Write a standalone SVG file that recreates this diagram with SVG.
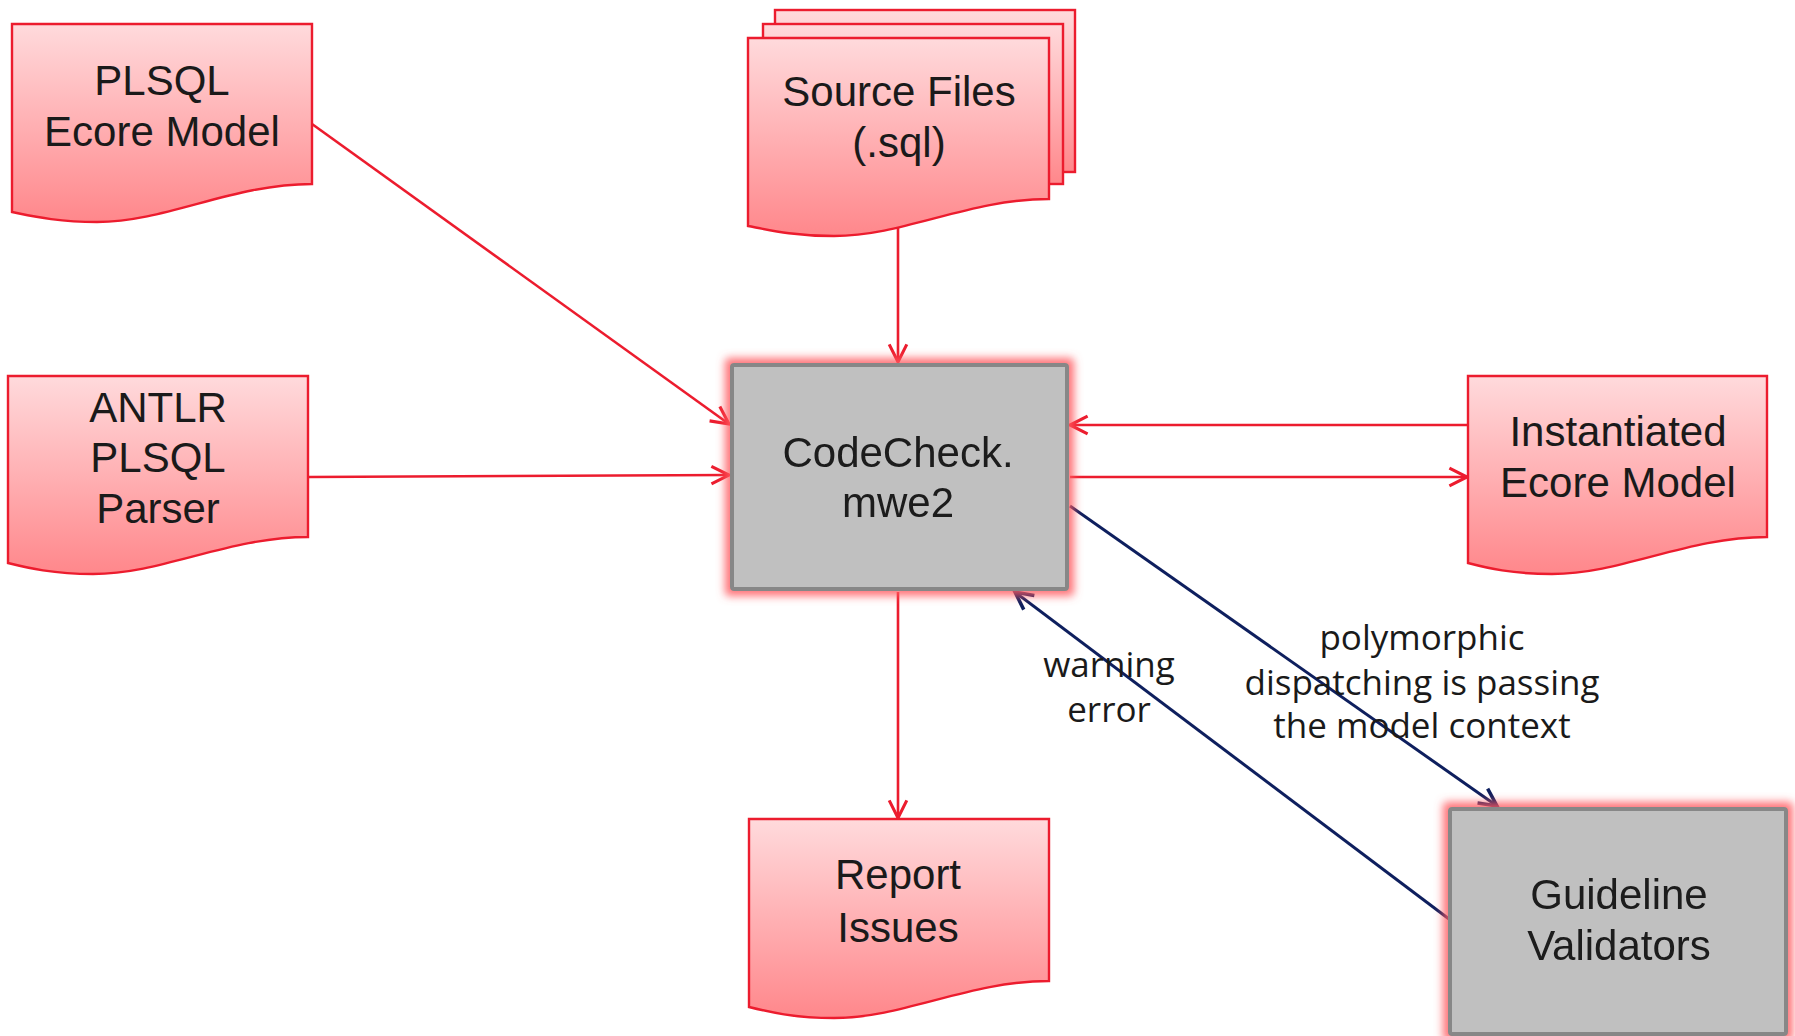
<svg xmlns="http://www.w3.org/2000/svg" width="1795" height="1036" viewBox="0 0 1795 1036">
<defs>
<linearGradient id="docFill" x1="0" y1="0" x2="0" y2="1">
<stop offset="0" stop-color="#ffdadc"/>
<stop offset="1" stop-color="#ff878b"/>
</linearGradient>
<filter id="glow" x="-10%" y="-10%" width="120%" height="120%">
<feMorphology in="SourceAlpha" operator="dilate" radius="5" result="d"/>
<feGaussianBlur in="d" stdDeviation="4" result="b"/>
<feFlood flood-color="#ff5a60" flood-opacity="0.85"/>
<feComposite in2="b" operator="in" result="g"/>
<feMerge><feMergeNode in="g"/><feMergeNode in="SourceGraphic"/></feMerge>
</filter>
<marker id="arrRed" markerUnits="userSpaceOnUse" markerWidth="22" markerHeight="22" refX="17" refY="9" orient="auto" viewBox="0 0 20 18">
<path d="M1,1 L17,9 L1,17" fill="none" stroke="#ec1c2e" stroke-width="2.8"/>
</marker>
<marker id="arrBlue" markerUnits="userSpaceOnUse" markerWidth="22" markerHeight="22" refX="17" refY="9" orient="auto" viewBox="0 0 20 18">
<path d="M1,1 L17,9 L1,17" fill="none" stroke="#0e1f5e" stroke-width="3.2"/>
</marker>
</defs>
<style>
.doc{fill:url(#docFill);stroke:#ec1c2e;stroke-width:2.4}
.proc{fill:#c0c0c0;stroke:#878787;stroke-width:4}
.t{font-family:"Liberation Sans",Arial,sans-serif;font-size:42px;fill:#1a1a1a;text-anchor:middle}
.lbl{font-family:"Open Sans","Noto Sans",sans-serif;font-size:35px;fill:#1a1a1a;text-anchor:middle}
.red{stroke:#ec1c2e;stroke-width:2.6;fill:none;marker-end:url(#arrRed)}
.blue{stroke:#0e1f5e;stroke-width:3;fill:none;marker-end:url(#arrBlue)}
</style>
<rect width="1795" height="1036" fill="#ffffff"/>

<g id="connectors">
<line class="red" x1="312" y1="124" x2="729" y2="424"/>
<line class="red" x1="309" y1="477" x2="729" y2="475"/>
<line class="red" x1="898" y1="227" x2="898" y2="362"/>
<line class="red" x1="1467" y1="425" x2="1070" y2="425"/>
<line class="red" x1="1070" y1="477" x2="1467" y2="477"/>
<line class="red" x1="898" y1="592" x2="898" y2="818"/>
<line class="blue" x1="1070" y1="506" x2="1497" y2="806"/>
<line class="blue" x1="1449" y1="919" x2="1015" y2="592"/>
</g>

<g id="plsql-ecore-model">
<path class="doc" d="M12,24 H312 V184 C232,184 167,222 97,222 C57,222 32,216 12,212 Z"/>
<text class="t" x="162" y="95">PLSQL</text>
<text class="t" x="162" y="146">Ecore Model</text>
</g>

<g id="source-files">
<rect class="doc" x="775" y="10" width="300" height="162"/>
<rect class="doc" x="763" y="24" width="300" height="160"/>
<path class="doc" d="M748,38 H1049 V199 C969,199 904,236 834,236 C794,236 769,230 748,226 Z"/>
<text class="t" x="899" y="106">Source Files</text>
<text class="t" x="899" y="157">(.sql)</text>
</g>

<g id="antlr-plsql-parser">
<path class="doc" d="M8,376 H308 V537 C228,537 163,574 93,574 C53,574 28,568 8,563 Z"/>
<text class="t" x="158" y="422">ANTLR</text>
<text class="t" x="158" y="472">PLSQL</text>
<text class="t" x="158" y="523">Parser</text>
</g>

<g id="codecheck-mwe2" filter="url(#glow)">
<rect class="proc" x="732" y="365" width="335" height="224" rx="2"/>
<text class="t" x="898" y="467">CodeCheck.</text>
<text class="t" x="898" y="517">mwe2</text>
</g>

<g id="instantiated-ecore-model">
<path class="doc" d="M1468,376 H1767 V537 C1687,537 1622,574 1552,574 C1512,574 1487,568 1468,563 Z"/>
<text class="t" x="1618" y="446">Instantiated</text>
<text class="t" x="1618" y="497">Ecore Model</text>
</g>

<g id="report-issues">
<path class="doc" d="M749,819 H1049 V981 C969,981 904,1018 834,1018 C794,1018 769,1012 749,1007 Z"/>
<text class="t" x="898" y="889">Report</text>
<text class="t" x="898" y="942">Issues</text>
</g>

<g id="guideline-validators" filter="url(#glow)">
<rect class="proc" x="1450" y="809" width="336" height="225" rx="2"/>
<text class="t" x="1619" y="909">Guideline</text>
<text class="t" x="1619" y="960">Validators</text>
</g>

<g id="labels">
<text class="lbl" x="1109" y="677">warning</text>
<text class="lbl" x="1109" y="722">error</text>
<text class="lbl" x="1422" y="650">polymorphic</text>
<text class="lbl" x="1422" y="695">dispatching is passing</text>
<text class="lbl" x="1422" y="738">the model context</text>
</g>
</svg>
